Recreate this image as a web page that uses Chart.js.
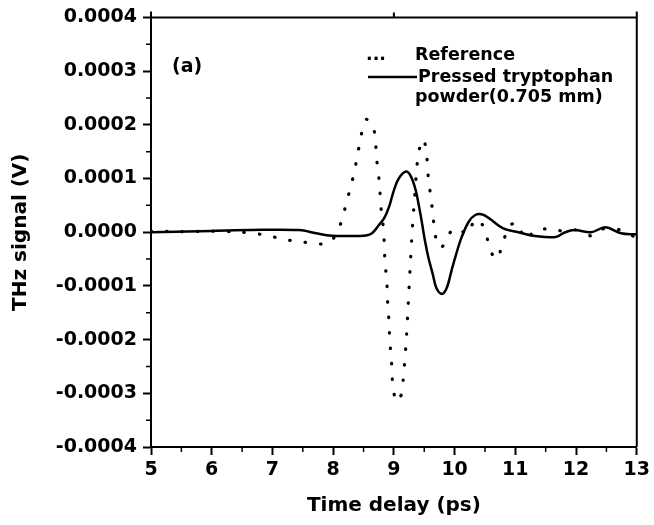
<!DOCTYPE html>
<html>
<head>
<meta charset="utf-8">
<script src="https://cdn.jsdelivr.net/npm/chart.js@4.4.0/dist/chart.umd.min.js"></script>
<style>
  body { margin: 0; background: #fff; }
</style>
</head>
<body>
<canvas id="chart" width="654" height="525"></canvas>
<script>
// ------------------- Data -------------------
const refTime = [5.0, 5.5, 6.0, 6.5, 6.92, 7.16, 7.41, 7.64, 7.89, 8.0, 8.08, 8.16, 8.23, 8.30, 8.36, 8.41, 8.46, 8.54, 8.62, 8.67,
  8.70, 8.72, 8.75, 8.77, 8.79, 8.82, 8.84, 8.85, 8.87, 8.89, 8.90, 8.92, 8.93, 8.95, 8.97, 8.98, 9.02, 9.05, 9.09, 9.13,
  9.16, 9.20, 9.23, 9.27, 9.30, 9.34, 9.38, 9.41, 9.49, 9.54, 9.57, 9.61, 9.64, 9.67, 9.72, 9.78, 9.85, 9.93, 10.02, 10.12,
  10.21, 10.34, 10.45, 10.51, 10.57, 10.64, 10.70, 10.80, 10.89, 11.03, 11.16, 11.34, 11.56, 11.79, 12.0, 12.26, 12.44, 12.74, 12.97, 13.0];
const refSignal = [0.000002, 0.000001, 0.000002, 0.0, -0.000006, -0.000013, -0.000017, -0.00002, -0.000022, -0.000012, 0.000002, 0.00003, 0.00006, 0.000089, 0.000119, 0.000149, 0.00018, 0.00021, 0.000205, 0.000193,
  0.000164, 0.000132, 0.000104, 0.000076, 0.000043, 0.000015, -0.000017, -0.000048, -0.000076, -0.000106, -0.000138, -0.000166, -0.000197, -0.000227, -0.000257, -0.000287, -0.000309, -0.000316, -0.00031, -0.0003,
  -0.000266, -0.000207, -0.000147, -0.00006, 0.0, 0.000063, 0.000123, 0.000151, 0.000173, 0.000143, 0.000097, 0.000065, 0.000035, 0.000004, -0.000026, -0.000028, -0.00002, 0.0, 0.000007, 0.000002,
  -0.000004, 0.000024, 0.000015, 0.000002, -0.000028, -0.000045, -0.00005, -0.000019, 0.000011, 0.000017, -0.000013, 0.000004, 0.000006, 0.000002, 0.000004, -0.000007, 0.000006, 0.000004, -0.000009, -0.00001];

const sampleTime = [5.0, 5.8, 6.62, 7.44, 7.72, 7.93, 8.25, 8.54, 8.64, 8.75, 8.84, 8.92, 9.0, 9.08, 9.2, 9.28, 9.36, 9.41, 9.46, 9.51, 9.57,
  9.64, 9.70, 9.79, 9.87, 9.95, 10.02, 10.11, 10.23, 10.34, 10.46, 10.59, 10.80, 11.05, 11.33, 11.66, 11.82, 11.98, 12.25, 12.48, 12.74, 12.97, 13.0];
const sampleSignal = [0.0, 0.000002, 0.000004, 0.000004, -0.000002, -0.000006, -0.000007, -0.000006, -0.000002, 0.000013, 0.000026, 0.000047, 0.000078, 0.0001, 0.000113, 0.000104, 0.000078, 0.00005, 0.000019, -0.000015, -0.000048,
  -0.000078, -0.000104, -0.000115, -0.000104, -0.000071, -0.000043, -0.000011, 0.000019, 0.000032, 0.000033, 0.000024, 0.000007, 0.0, -0.000007, -0.000009, 0.0, 0.000004, 0.0, 0.000009, -0.000002, -0.000004, -0.000004];

const xTickValues = [5, 5.5, 6, 6.5, 7, 7.5, 8, 8.5, 9, 9.5, 10, 10.5, 11, 11.5, 12, 12.5, 13];
const yTickValues = [-0.0004, -0.00035, -0.0003, -0.00025, -0.0002, -0.00015, -0.0001, -0.00005, 0,
  0.00005, 0.0001, 0.00015, 0.0002, 0.00025, 0.0003, 0.00035, 0.0004];

const FONT = "'DejaVu Sans', sans-serif";

function isMajor(v, step){
  return Math.abs(v / step - Math.round(v / step)) < 1e-6;
}

// ------------------- Frame, minor ticks, legend -------------------
const framePlugin = {
  id: 'frame',
  afterDraw(chart){
    const { ctx, chartArea: a, scales: { x, y } } = chart;
    ctx.save();
    ctx.strokeStyle = '#000';
    ctx.lineWidth = 2;
    ctx.beginPath();
    ctx.moveTo(a.left, a.top); ctx.lineTo(a.right, a.top);
    ctx.moveTo(a.right, a.top - 6); ctx.lineTo(a.right, a.bottom);
    ctx.moveTo(a.left, a.top - 6); ctx.lineTo(a.left, a.top);
    const x9 = x.getPixelForValue(9);
    ctx.moveTo(x9, a.top); ctx.lineTo(x9, a.top - 5);
    ctx.stroke();

    ctx.lineWidth = 1.5;
    ctx.beginPath();
    x.ticks.forEach(t => {
      if (!isMajor(t.value, 1)) {
        const p = x.getPixelForValue(t.value);
        ctx.moveTo(p, a.bottom); ctx.lineTo(p, a.bottom + 5);
      }
    });
    y.ticks.forEach(t => {
      if (!isMajor(t.value, 0.0001)) {
        const p = y.getPixelForValue(t.value);
        ctx.moveTo(a.left, p); ctx.lineTo(a.left - 5, p);
      }
    });
    ctx.stroke();

    // panel label + legend
    ctx.fillStyle = '#000';
    ctx.textBaseline = 'alphabetic';
    ctx.font = "bold 19px " + FONT;
    ctx.fillText('(a)', 172, 72);

    ctx.font = "bold 17.5px " + FONT;
    ctx.fillText('...', 366, 60);
    ctx.fillText('Reference', 415, 60);
    ctx.lineWidth = 2.5;
    ctx.beginPath();
    ctx.moveTo(368, 77); ctx.lineTo(417, 77);
    ctx.stroke();
    ctx.fillText('Pressed tryptophan', 418, 82);
    ctx.fillText('powder(0.705 mm)', 415, 102);
    ctx.restore();
  }
};

// ------------------- Chart -------------------
const chart = new Chart(document.getElementById('chart'), {
  type: 'line',
  data: {
    datasets: [
      {
        label: 'Reference',
        data: refTime.map((t, i) => ({ x: t, y: refSignal[i] })),
        borderColor: '#000',
        borderWidth: 3.2,
        borderDash: [0.5, 15],
        borderCapStyle: 'round',
        tension: 0.25,
        pointRadius: 0,
        fill: false
      },
      {
        label: 'Pressed tryptophan powder(0.705 mm)',
        data: sampleTime.map((t, i) => ({ x: t, y: sampleSignal[i] })),
        borderColor: '#000',
        borderWidth: 2.5,
        tension: 0.35,
        pointRadius: 0,
        fill: false
      }
    ]
  },
  options: {
    responsive: false,
    animation: false,
    layout: { padding: { left: 0, right: 15, top: 17, bottom: 0 } },
    plugins: { legend: { display: false }, tooltip: { enabled: false } },
    scales: {
      x: {
        type: 'linear',
        min: 5, max: 13,
        afterBuildTicks: s => { s.ticks = xTickValues.map(v => ({ value: v })); },
        afterFit: s => { s.height = 78; },
        border: { color: '#000', width: 2 },
        grid: {
          drawOnChartArea: false,
          tickLength: 8,
          tickWidth: 2,
          tickColor: c => (c.tick && isMajor(c.tick.value, 1)) ? '#000' : 'rgba(0,0,0,0)'
        },
        ticks: {
          autoSkip: false, maxRotation: 0, padding: 4,
          color: '#000',
          font: { family: FONT, size: 19, weight: 'bold' },
          callback: v => isMajor(v, 1) ? String(Math.round(v)) : ''
        },
        title: {
          display: true, text: 'Time delay (ps)', color: '#000',
          font: { family: FONT, size: 20, weight: 'bold' },
          padding: { top: 0, bottom: 7 }
        }
      },
      y: {
        min: -0.0004, max: 0.0004,
        afterBuildTicks: s => { s.ticks = yTickValues.map(v => ({ value: v })); },
        afterFit: s => { s.width = 151; },
        border: { color: '#000', width: 2 },
        grid: {
          drawOnChartArea: false,
          tickLength: 8,
          tickWidth: 2,
          tickColor: c => (c.tick && isMajor(c.tick.value, 0.0001)) ? '#000' : 'rgba(0,0,0,0)'
        },
        ticks: {
          autoSkip: false, padding: 6,
          color: '#000',
          font: { family: FONT, size: 19, weight: 'bold' },
          callback: v => isMajor(v, 0.0001) ? (Math.round(v * 1e4) / 1e4).toFixed(4) : ''
        },
        title: {
          display: true, text: 'THz signal (V)', color: '#000',
          font: { family: FONT, size: 20, weight: 'bold' },
          padding: { top: 9, bottom: 0 }
        }
      }
    }
  },
  plugins: [framePlugin]
});
</script>
</body>
</html>
